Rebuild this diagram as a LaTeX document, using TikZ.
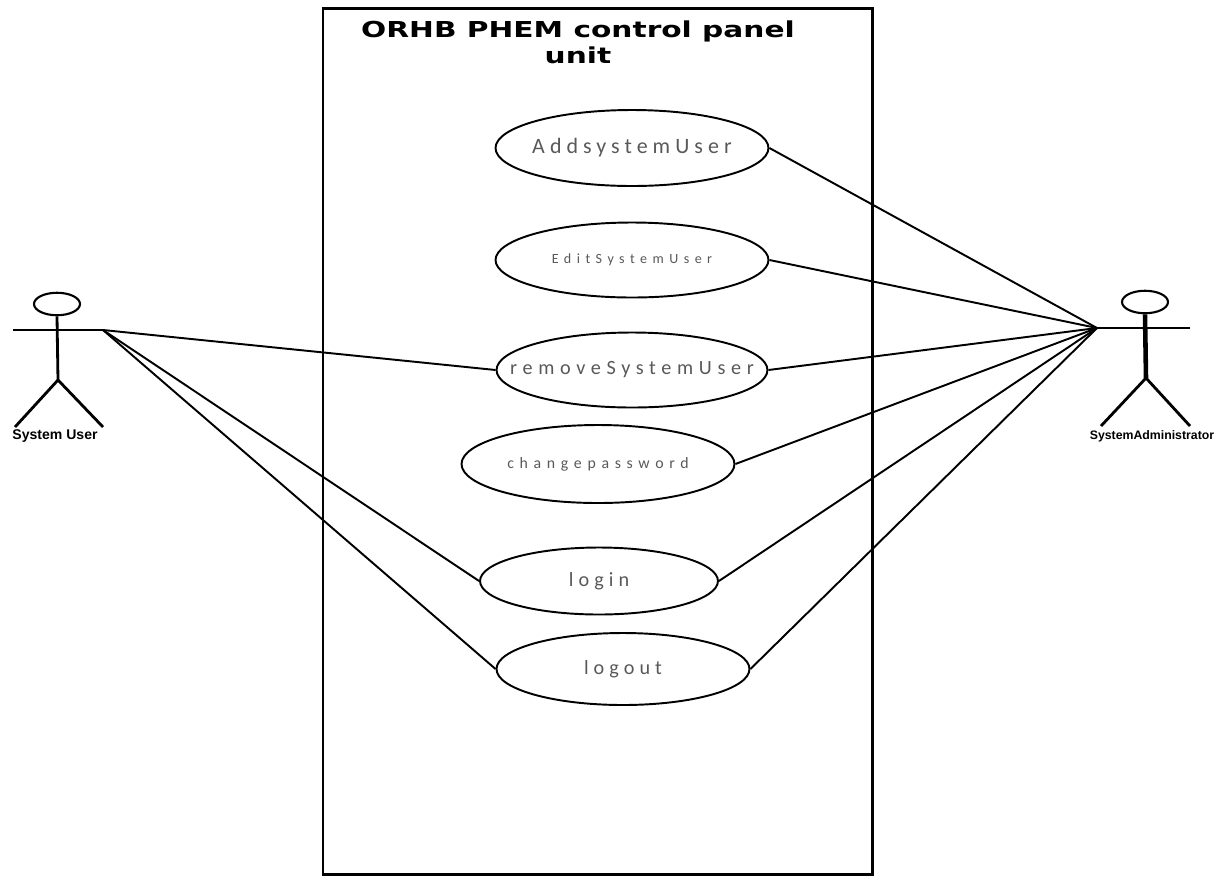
\documentclass[tikz,border=0pt]{standalone}
\usepackage{fontspec}
\setmainfont{Liberation Sans}
\newfontfamily\ucfont{Carlito}
\newfontfamily\titlefont{DejaVu Sans}
\usetikzlibrary{shapes.geometric}

\begin{document}
\begin{tikzpicture}[x=0.02cm, y=-0.02cm,
	uc/.style={draw, ellipse, line width=1.1pt, inner xsep=-0.7cm, inner ysep=0pt, text=black!65},
	ucfont/.style 2 args={font=\ucfont\fontsize{#1}{#1}\selectfont\addfontfeatures{LetterSpace=#2}},
	link/.style={line width=1.1pt},
	limb/.style={line width=1.6pt},
	head/.style={draw, ellipse, line width=1.2pt, inner sep=0pt, minimum width=0.92cm, minimum height=0.45cm},
	actor/.style={font=\bfseries\fontsize{#1}{#1}\selectfont}]
	\useasboundingbox (0,0) rectangle (1220,877);
	% system boundary
	\draw[line width=1.7pt] (323,8) rectangle (872,874);
	\node[font=\titlefont\bfseries\fontsize{12.5}{14.7}\selectfont, align=center] (t) at (578,42) {\scalebox{1.35}[1]{ORHB PHEM control panel}\\\scalebox{1.35}[1]{unit}};
	% use cases
	\node[uc, ucfont={12.5}{23}, minimum width=5.46cm, minimum height=1.52cm] (u1) at (632,148) {AddsystemUser};
	\node[uc, ucfont={8}{39}, minimum width=5.46cm, minimum height=1.5cm] (u2) at (632,260) {EditSystemUser};
	\node[uc, ucfont={11.5}{28}, minimum width=5.42cm, minimum height=1.5cm] (u3) at (632,370) {removeSystemUser};
	\node[uc, ucfont={9}{36}, minimum width=5.46cm, minimum height=1.56cm] (u4) at (598,464) {changepassword};
	\node[uc, ucfont={11.5}{25}, minimum width=4.76cm, minimum height=1.34cm] (u5) at (599,581) {login};
	\node[uc, ucfont={11.5}{25}, minimum width=5.06cm, minimum height=1.44cm] (u6) at (623,669) {logout};
	% System User
	\node[head] (h1) at (57,304) {};
	\coordinate (a1) at (13,330);
	\coordinate (p1) at (103,330);
	\coordinate (k1) at (58,380);
	\coordinate (f1) at (15,427);
	\coordinate (g1) at (103,427);
	\draw[limb] (a1) -- (p1);
	\draw[limb] (h1.south) -- (k1);
	\draw[limb] (f1) -- (k1) -- (g1);
	\node[actor=8] (n1) at (55,436) {System User};
	% SystemAdministrator
	\node[head] (h2) at (1145,302) {};
	\coordinate (p2) at (1097,328);
	\coordinate (a2) at (1190,328);
	\coordinate (k2) at (1146,378);
	\coordinate (f2) at (1101,426);
	\coordinate (g2) at (1190,426);
	\draw[limb] (p2) -- (a2);
	\draw[line width=2.6pt] (h2.south) -- (k2);
	\draw[limb] (f2) -- (k2) -- (g2);
	\node[actor=7] (n2) at (1152,436) {SystemAdministrator};
	% associations
	\draw[link] (p1) -- (u3.west);
	\draw[link] (p1) -- (u5.west);
	\draw[link] (p1) -- (u6.west);
	\draw[link] (p2) -- (u1.east);
	\draw[link] (p2) -- (u2.east);
	\draw[link] (p2) -- (u3.east);
	\draw[link] (p2) -- (u4.east);
	\draw[link] (p2) -- (u5.east);
	\draw[link] (p2) -- (u6.east);
\end{tikzpicture}
\end{document}
